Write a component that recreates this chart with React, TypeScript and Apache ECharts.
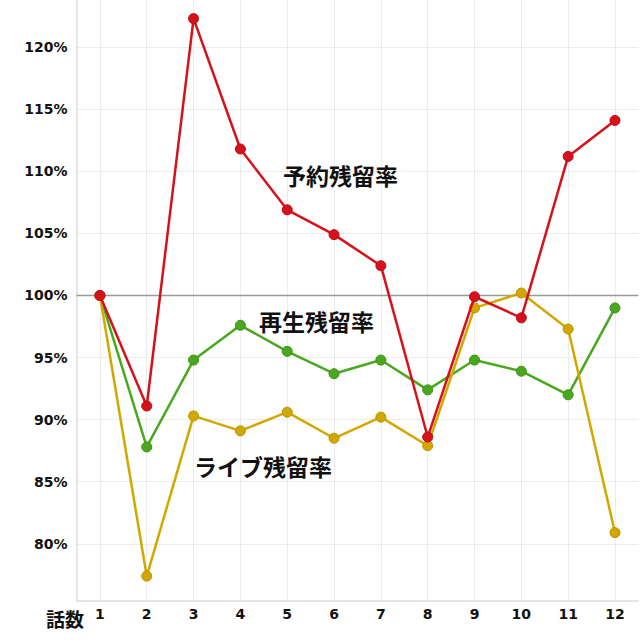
import React, { useEffect, useRef } from "react";
import * as echarts from "echarts";

const episodes = ["1", "2", "3", "4", "5", "6", "7", "8", "9", "10", "11", "12"];
const reservation = [100, 91.1, 122.3, 111.8, 106.9, 104.9, 102.4, 88.6, 99.9, 98.2, 111.2, 114.1];
const playback = [100, 87.8, 94.8, 97.6, 95.5, 93.7, 94.8, 92.4, 94.8, 93.9, 92.0, 99.0];
const live = [100, 77.4, 90.3, 89.1, 90.6, 88.5, 90.2, 87.9, 99.0, 100.2, 97.3, 80.9];
const yTicks = [80, 85, 90, 95, 100, 105, 110, 115, 120];
const seriesNames = ["予約残留率", "再生残留率", "ライブ残留率"];

const RED = "#d7111b";
const GREEN = "#4aa81f";
const YELLOW = "#d2a700";

export default function App() {
  const ref = useRef<HTMLDivElement>(null);
  useEffect(() => {
    if (!ref.current) return;
    const chart = echarts.init(ref.current, null, { renderer: "svg" });
    const mkSeries = (name: string, data: number[], color: string, border: string, z: number) => ({
      name,
      type: "line",
      data,
      z,
      symbol: "circle",
      symbolSize: 10,
      lineStyle: { color, width: 2.5 },
      itemStyle: { color, borderColor: border, borderWidth: 1 },
    });
    const textStyle = (text: string, size: number) => ({
      text,
      fill: "#111",
      font: `bold ${size}px 'Noto Sans CJK JP'`,
      verticalAlign: "middle",
    });
    chart.setOption({
      animation: false,
      grid: { left: 76.5, right: 1.6, top: 0, bottom: 39.7 },
      xAxis: {
        type: "category",
        data: episodes,
        boundaryGap: true,
        axisLine: { show: true, lineStyle: { color: "#dddddd", width: 1.5 } },
        axisTick: { show: false },
        splitLine: { show: false },
        axisLabel: {
          color: "#111",
          fontFamily: "DejaVu Sans",
          fontWeight: "bold",
          fontSize: 14,
          margin: 7,
        },
      },
      yAxis: {
        type: "value",
        min: 75.45,
        max: 123.8,
        axisLine: { show: true, lineStyle: { color: "#dddddd", width: 1.5 } },
        axisTick: { show: false, customValues: yTicks },
        splitLine: { show: true, lineStyle: { color: "#ececec", width: 1 } },
        axisLabel: {
          customValues: yTicks,
          color: "#111",
          fontFamily: "DejaVu Sans",
          fontWeight: "bold",
          fontSize: 14,
          margin: 9,
          formatter: (v: number) => `${v}%`,
        },
      },
      series: [
        {
          type: "line",
          data: [],
          z: 1,
          silent: true,
          markLine: {
            z: 1,
            silent: true,
            symbol: "none",
            label: { show: false },
            lineStyle: { color: "#ececec", width: 1, type: "solid" },
            data: episodes.map((_, i) => ({ xAxis: i })),
          },
        },
        {
          type: "line",
          data: [],
          z: 1,
          silent: true,
          markLine: {
            z: 1,
            silent: true,
            symbol: "none",
            label: { show: false },
            lineStyle: { color: "#9a9a9a", width: 1.3, type: "solid" },
            data: [{ yAxis: 100 }],
          },
        },
        mkSeries(seriesNames[1], playback, GREEN, "#3d8f17", 3),
        mkSeries(seriesNames[2], live, YELLOW, "#b89200", 4),
        mkSeries(seriesNames[0], reservation, RED, "#b50d15", 5),
      ],
      graphic: [
        { type: "text", z: 100, x: 283, y: 175, style: textStyle(seriesNames[0], 23) },
        { type: "text", z: 100, x: 259, y: 321, style: textStyle(seriesNames[1], 23) },
        { type: "text", z: 100, x: 194, y: 466, style: textStyle(seriesNames[2], 23) },
        { type: "text", z: 100, x: 46, y: 618, style: textStyle("話数", 19) },
      ],
    });
    return () => chart.dispose();
  }, []);
  return (
    <div
      ref={ref}
      style={{ position: "fixed", left: 0, top: 0, width: 640, height: 640, background: "#fff" }}
    />
  );
}
